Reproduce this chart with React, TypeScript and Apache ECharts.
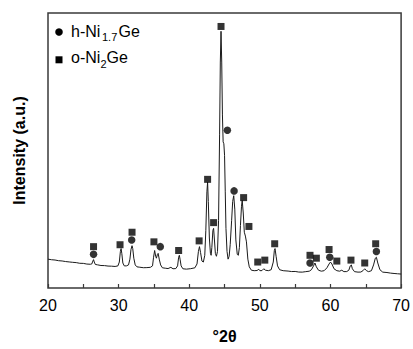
import React, { useEffect, useRef } from "react";
import * as echarts from "echarts";

const twoTheta = [
  20.0, 20.5, 21.0, 21.5, 22.0, 22.5, 23.0, 23.5, 24.0, 24.5, 25.0, 25.5, 26.0, 26.2, 26.35, 26.45, 26.55, 26.7,
  27.0, 27.5, 28.0, 28.5, 29.0, 29.5, 29.9, 30.1, 30.25, 30.35, 30.45, 30.6, 30.8, 31.1, 31.4, 31.6, 31.75, 31.9,
  32.0, 32.15, 32.35, 32.6, 33.0, 33.5, 34.0, 34.5, 34.8, 34.95, 35.1, 35.25, 35.35, 35.5, 35.6, 35.75, 35.95,
  36.2, 36.6, 37.0, 37.4, 37.7, 38.1, 38.35, 38.5, 38.6, 38.7, 38.85, 39.1, 39.6, 40.2, 40.8, 41.1, 41.3, 41.45,
  41.6, 41.8, 42.0, 42.2, 42.35, 42.5, 42.6, 42.7, 42.85, 43.0, 43.1, 43.2, 43.35, 43.45, 43.55, 43.7, 43.85,
  44.0, 44.15, 44.3, 44.4, 44.5, 44.6, 44.7, 44.8, 44.9, 45.0, 45.1, 45.2, 45.35, 45.5, 45.65, 45.8, 46.0, 46.15,
  46.3, 46.45, 46.6, 46.8, 46.95, 47.1, 47.25, 47.4, 47.5, 47.65, 47.8, 47.95, 48.1, 48.3, 48.5, 48.8, 49.2, 49.6,
  49.85, 50.0, 50.3, 50.55, 50.8, 51.2, 51.6, 51.9, 52.05, 52.15, 52.3, 52.5, 52.8, 53.3, 54.0, 54.5, 55.0, 55.5,
  56.0, 56.5, 57.0, 57.3, 57.6, 57.8, 58.0, 58.3, 58.7, 59.1, 59.5, 59.8, 60.0, 60.2, 60.5, 60.9, 61.3, 61.6,
  61.9, 62.3, 62.6, 62.8, 62.95, 63.1, 63.4, 63.9, 64.3, 64.6, 64.85, 65.1, 65.4, 65.8, 66.1, 66.35, 66.5, 66.7,
  67.0, 67.4, 68.0, 68.5, 69.0, 69.5, 70.0,
];

const intensity = [
  30, 29.4, 29.1, 28.4, 28.1, 27.5, 27.1, 26.7, 26.4, 25.7, 25.6, 24.9, 24.7, 25, 28, 29.5, 27, 24.5,
  24.1, 23.4, 23.3, 22.8, 22.7, 22.4, 23, 27, 38, 41, 36, 26, 23, 23, 24, 30, 40, 44,
  41, 31, 24, 22, 21.6, 21.1, 21.2, 21.5, 23, 32, 39, 33, 31, 35, 36, 30, 24,
  21, 20.6, 20.2, 21.5, 20, 20.2, 23, 32, 34, 30, 23, 20, 19.6, 20.1, 21, 25, 38, 43,
  37, 28, 27, 34, 60, 100, 110, 90, 52, 36, 34, 42, 60, 62, 52, 36, 33,
  38, 70, 160, 235, 267, 235, 180, 152, 150, 138, 100, 62, 38, 30, 33, 45, 70, 90,
  96, 82, 50, 35, 34, 42, 65, 85, 91, 78, 58, 54, 48, 30, 22, 18.5, 18, 18.2,
  19.5, 18, 18.1, 20, 18.5, 18, 19, 27, 39, 41, 33, 23, 19, 18, 17.6, 17.1, 17.2, 16.6,
  16.5, 17, 17.5, 19, 23, 26, 22, 18.5, 17.5, 18, 21, 25, 27, 25, 20, 18, 17.5, 18.5,
  17, 17.1, 18.5, 23, 24, 20, 17, 16.5, 16.6, 18, 20, 18, 17, 18, 24, 31, 32, 26,
  19, 16.5, 16.1, 15.5, 15.1, 14.8, 14.5,
];

const hX = [26.45, 31.85, 35.9, 45.4, 46.35, 57.1, 59.9, 66.5];
const hY = [35, 50, 43, 164, 101, 26, 32, 38];

const oX = [26.45, 30.2, 31.9, 35.0, 38.5, 41.4, 42.6, 43.45, 44.5, 47.7, 48.45, 49.7, 50.7, 52.1, 57.1, 58.0, 59.8, 60.9, 62.9, 64.85, 66.4];
const oY = [43, 45, 58, 48, 39, 49, 113, 68, 272, 94, 64, 27, 29, 46, 34, 31, 40, 28, 29, 26, 46];

const xTicks = [20, 30, 40, 50, 60, 70];

const FONT = "'Liberation Sans', Arial, sans-serif";

export default function App() {
  const ref = useRef<HTMLDivElement>(null);
  useEffect(() => {
    if (!ref.current) return;
    const chart = echarts.init(ref.current, null, { renderer: "svg" });
    const line = twoTheta.map((x, i) => [x, intensity[i]]);
    const hData = hX.map((x, i) => [x, hY[i]]);
    const oData = oX.map((x, i) => [x, oY[i]]);
    chart.setOption({
      animation: false,
      backgroundColor: "#fff",
      grid: {
        left: 48,
        right: 10,
        top: 13,
        bottom: 50,
        show: true,
        borderColor: "#3a3a3a",
        borderWidth: 1.5,
        backgroundColor: "transparent",
      },
      xAxis: {
        type: "value",
        min: 20,
        max: 70,
        interval: 5,
        name: "°2θ",
        nameLocation: "middle",
        nameGap: 40,
        nameTextStyle: { fontFamily: FONT, fontSize: 16, fontWeight: "bold", color: "#000" },
        axisLine: { show: false },
        axisTick: { show: true, inside: true, length: 4, lineStyle: { color: "#3a3a3a", width: 1.2 } },
        splitLine: { show: false },
        axisLabel: {
          fontFamily: FONT,
          fontSize: 16,
          color: "#000",
          margin: 9,
          formatter: (v: number) => (xTicks.includes(v) ? String(v) : ""),
        },
      },
      yAxis: {
        type: "value",
        min: 0,
        max: 286,
        name: "Intensity (a.u.)",
        nameLocation: "middle",
        nameGap: 21,
        nameTextStyle: { fontFamily: FONT, fontSize: 16, fontWeight: "bold", color: "#000" },
        axisLine: { show: false },
        axisTick: { show: false },
        axisLabel: { show: false },
        splitLine: { show: false },
      },
      series: [
        {
          type: "line",
          data: line,
          symbol: "none",
          lineStyle: { color: "#1a1a1a", width: 1 },
          z: 2,
        },
        {
          type: "scatter",
          data: hData,
          symbol: "circle",
          symbolSize: 7.5,
          itemStyle: { color: "#000" },
          z: 3,
        },
        {
          type: "scatter",
          data: oData,
          symbol: "rect",
          symbolSize: 7,
          itemStyle: { color: "#000" },
          z: 3,
        },
      ],
      graphic: [
        { type: "circle", shape: { cx: 59, cy: 32, r: 3.8 }, style: { fill: "#000" } },
        { type: "rect", shape: { x: 55.5, y: 56.3, width: 7, height: 7 }, style: { fill: "#000" } },
        { type: "text", x: 71, y: 31, style: { text: "h-Ni", font: `16px ${FONT}`, fill: "#000", verticalAlign: "middle" } },
        { type: "text", x: 102, y: 37, style: { text: "1.7", font: `11px ${FONT}`, fill: "#000", verticalAlign: "middle" } },
        { type: "text", x: 118.5, y: 31, style: { text: "Ge", font: `16px ${FONT}`, fill: "#000", verticalAlign: "middle" } },
        { type: "text", x: 71, y: 57.5, style: { text: "o-Ni", font: `16px ${FONT}`, fill: "#000", verticalAlign: "middle" } },
        { type: "text", x: 100.5, y: 64, style: { text: "2", font: `11px ${FONT}`, fill: "#000", verticalAlign: "middle" } },
        { type: "text", x: 106.5, y: 57.5, style: { text: "Ge", font: `16px ${FONT}`, fill: "#000", verticalAlign: "middle" } },
      ],
    });
    return () => chart.dispose();
  }, []);
  return <div ref={ref} style={{ position: "absolute", left: 0, top: 0, width: 413, height: 349 }} />;
}
